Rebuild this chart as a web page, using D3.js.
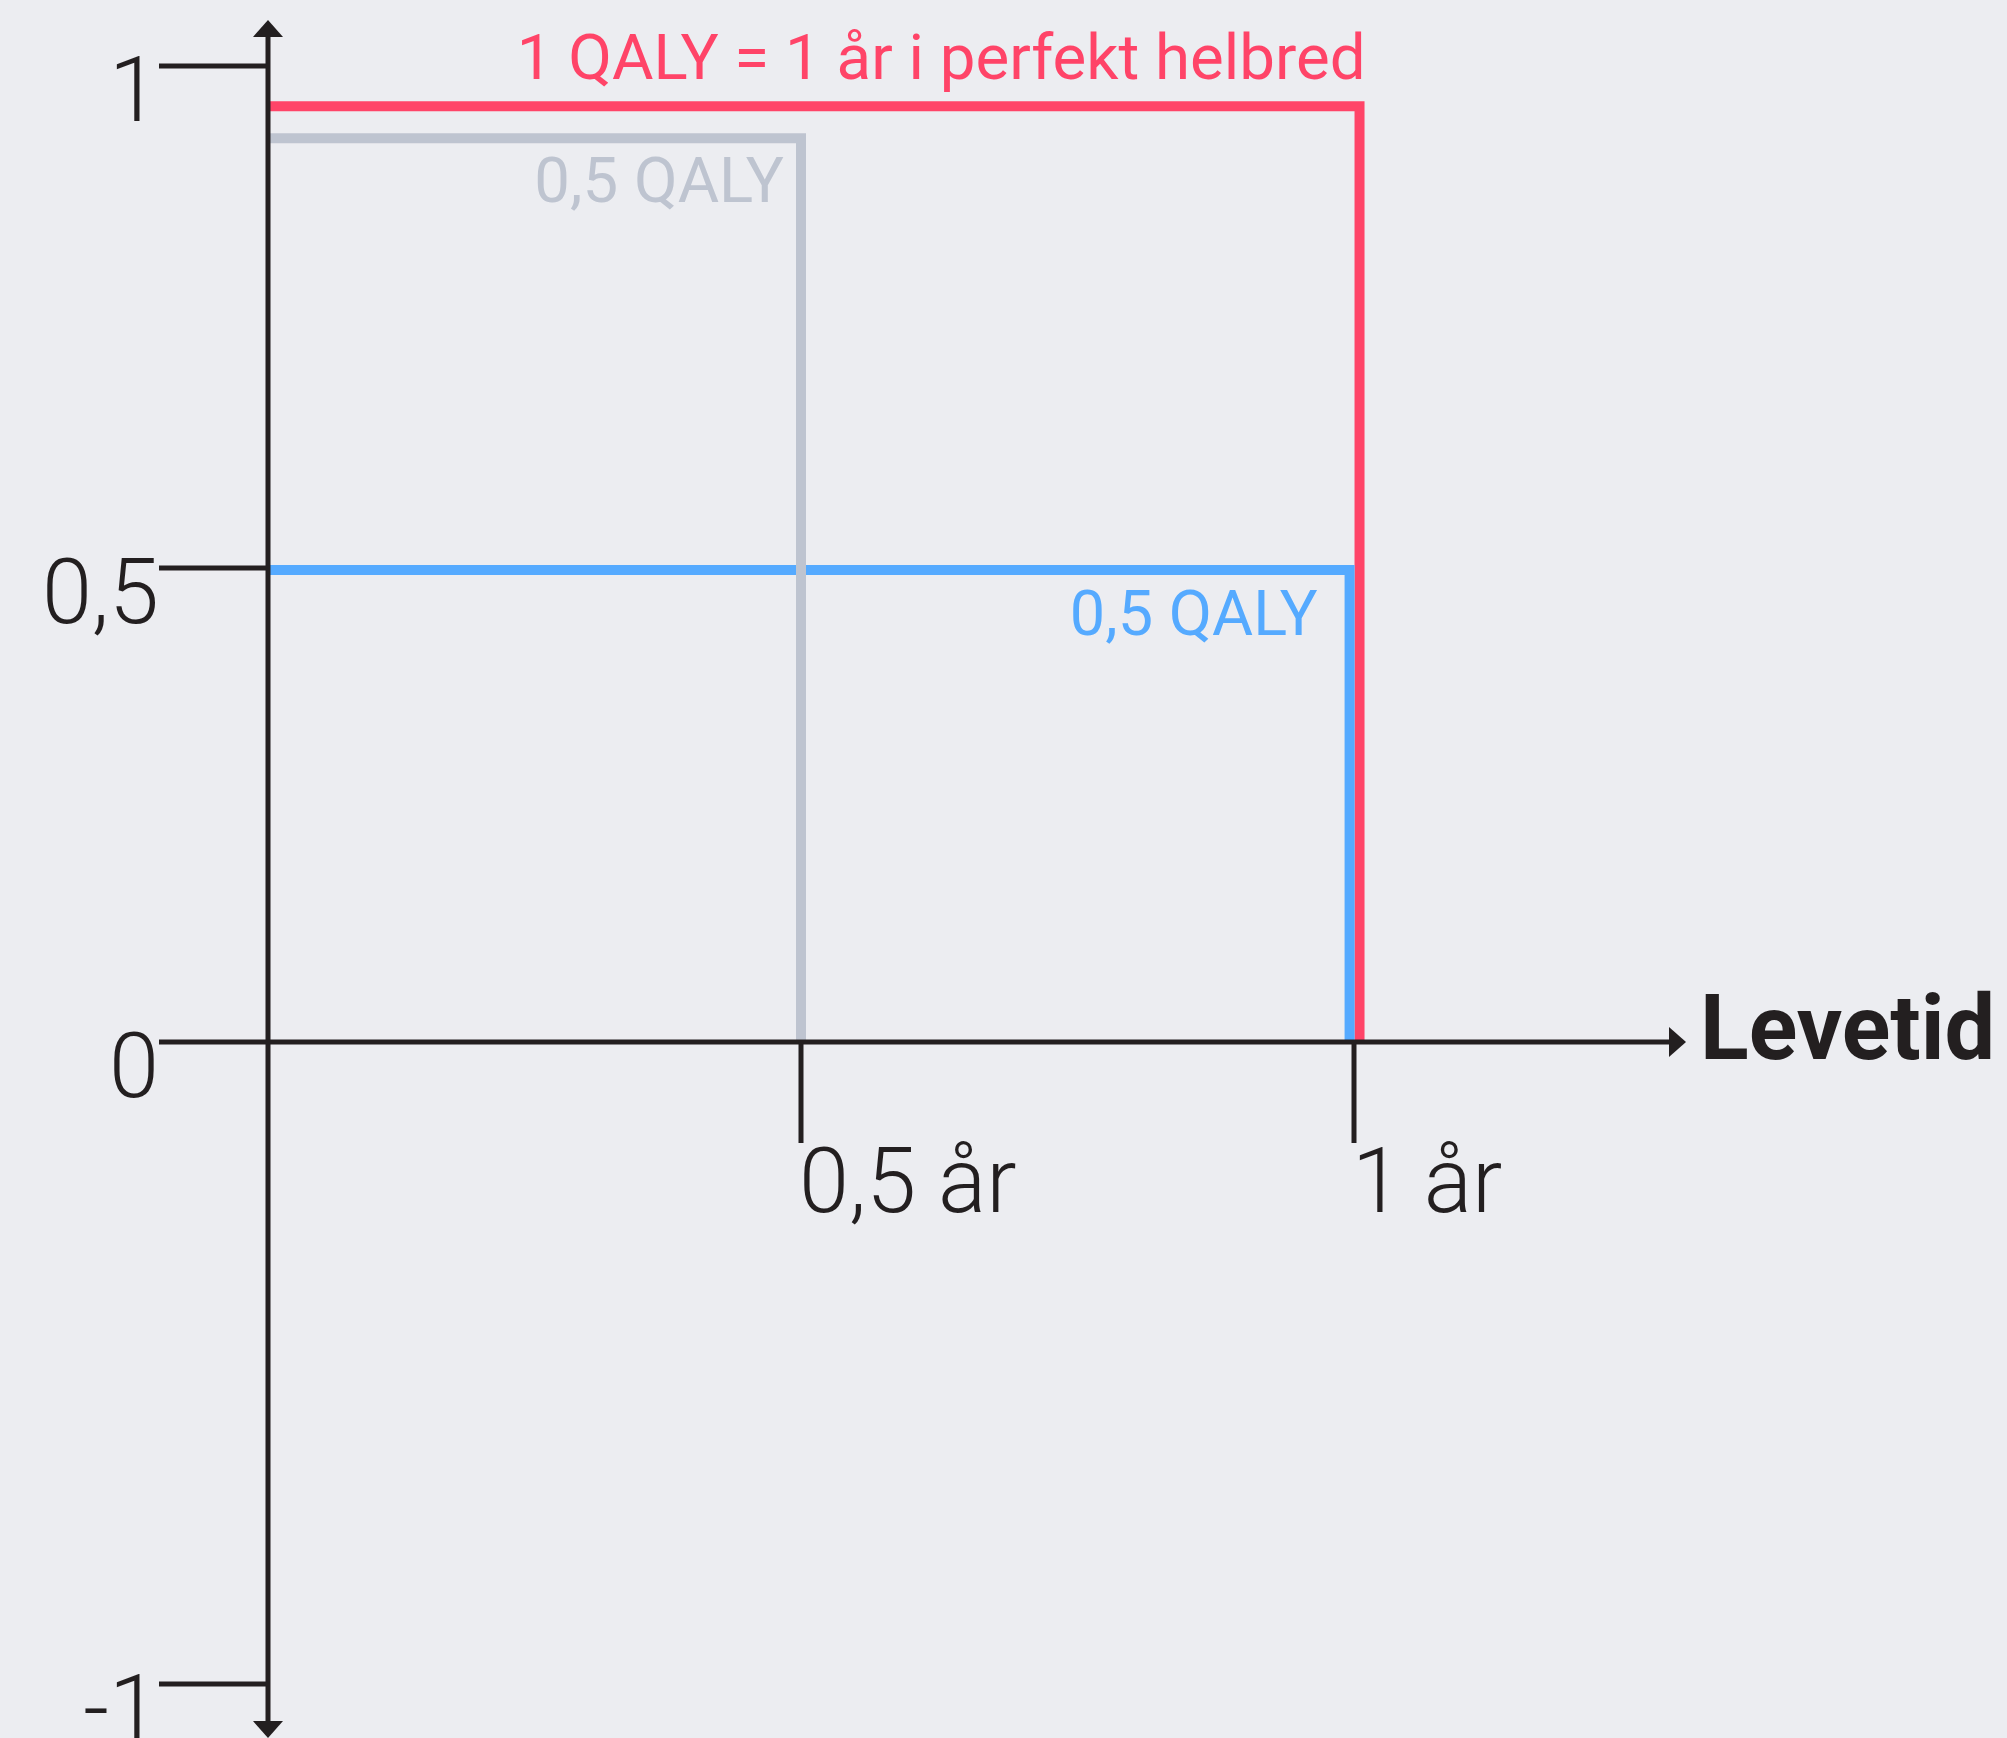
<!DOCTYPE html>
<html>
<head>
  <title></title>
  <style>
    html, body { margin: 0; padding: 0; background: #ecedf1; }
    svg { display: block; }
    text { font-family: Roboto, "Noto Sans", sans-serif; }
  </style>
</head>
<body>
  <svg width="2007" height="1738"></svg>

  <script src="https://d3js.org/d3.v7.min.js"></script>
  <script>

  // tick values and their labels
  var yTicks = [1, 0.5, 0, -1];
  var yTickLabels = ["1", "0,5", "0", "-1"];
  var xTicks = [0.5, 1];
  var xTickLabels = ["0,5 år", "1 år"];

  // the three QALY boxes: [livetid, livskvalitet]
  var redLine = [[0, 0.96], [1.005, 0.96], [1.005, 0]];
  var grayLine = [[0, 0.928], [0.5, 0.928], [0.5, 0]];
  var blueLine = [[0, 0.498], [0.996, 0.498], [0.996, 0]];

  var redLabel = "1 QALY = 1 år i perfekt helbred";
  var grayLabel = "0,5 QALY";
  var blueLabel = "0,5 QALY";
  var xTitle = "Levetid";

  var svg = d3.select("svg"),
      ink = "#231f20";

  // hand-drawn illustration: the ticks are not evenly spaced
  var x = d3.scaleLinear().domain([0, 0.5, 1]).range([268, 801, 1354]);
  var y = d3.scaleLinear().domain([-1, 0, 0.5, 1]).range([1684, 1042, 568, 66]);

  var line = d3.line()
      .x(function(d) { return x(d[0]); })
      .y(function(d) { return y(d[1]); });

  function drawPath(data, color) {
    svg.append("path")
        .attr("d", line(data))
        .attr("fill", "none")
        .attr("stroke", color)
        .attr("stroke-width", 10)
        .attr("stroke-linejoin", "miter")
        .attr("stroke-linecap", "butt");
  }

  drawPath(redLine, "#ff4468");
  drawPath(blueLine, "#55aaff");
  drawPath(grayLine, "#bec4d0");

  // y axis
  svg.append("line")
      .attr("x1", x(0)).attr("x2", x(0))
      .attr("y1", 36).attr("y2", 1723)
      .attr("stroke", ink).attr("stroke-width", 5);

  svg.append("path")
      .attr("d", "M" + x(0) + ",20l-15,17h30z")
      .attr("fill", ink);
  svg.append("path")
      .attr("d", "M" + x(0) + ",1738l-15,-17h30z")
      .attr("fill", ink);

  // x axis
  svg.append("line")
      .attr("x1", x(0)).attr("x2", 1670)
      .attr("y1", y(0)).attr("y2", y(0))
      .attr("stroke", ink).attr("stroke-width", 5);

  svg.append("path")
      .attr("d", "M1686," + y(0) + "l-17,-15v30z")
      .attr("fill", ink);

  svg.append("text")
      .attr("x", 1700)
      .attr("y", y(0) + 17)
      .attr("font-size", 90)
      .attr("font-weight", 700)
      .attr("fill", ink)
      .text(xTitle);

  // y ticks
  var yt = svg.selectAll(".ytick")
      .data(yTicks)
      .enter().append("g")
      .attr("class", "ytick")
      .attr("transform", function(d) { return "translate(0," + y(d) + ")"; });

  yt.append("line")
      .attr("x1", 159).attr("x2", x(0))
      .attr("stroke", ink).attr("stroke-width", 5);

  yt.append("text")
      .attr("x", 159)
      .attr("y", 55)
      .attr("text-anchor", "end")
      .attr("font-size", 90)
      .attr("font-weight", 300)
      .attr("fill", ink)
      .text(function(d, i) { return yTickLabels[i]; });

  // x ticks
  var xt = svg.selectAll(".xtick")
      .data(xTicks)
      .enter().append("g")
      .attr("class", "xtick")
      .attr("transform", function(d) { return "translate(" + x(d) + ",0)"; });

  xt.append("line")
      .attr("y1", y(0)).attr("y2", 1143)
      .attr("stroke", ink).attr("stroke-width", 5);

  xt.append("text")
      .attr("x", -2)
      .attr("y", 1212)
      .attr("font-size", 90)
      .attr("font-weight", 300)
      .attr("fill", ink)
      .text(function(d, i) { return xTickLabels[i]; });

  // labels for the boxes
  svg.append("text")
      .attr("x", x(redLine[1][0]) + 6)
      .attr("y", y(redLine[0][1]) - 27)
      .attr("text-anchor", "end")
      .attr("font-size", 63.6)
      .attr("fill", "#ff4468")
      .text(redLabel);

  svg.append("text")
      .attr("x", x(grayLine[1][0]) - 17)
      .attr("y", y(grayLine[0][1]) + 64)
      .attr("text-anchor", "end")
      .attr("font-size", 63.5)
      .attr("fill", "#bec4d0")
      .text(grayLabel);

  svg.append("text")
      .attr("x", x(blueLine[1][0]) - 32)
      .attr("y", y(blueLine[0][1]) + 65)
      .attr("text-anchor", "end")
      .attr("font-size", 63)
      .attr("fill", "#55aaff")
      .text(blueLabel);

  </script>
</body>
</html>
